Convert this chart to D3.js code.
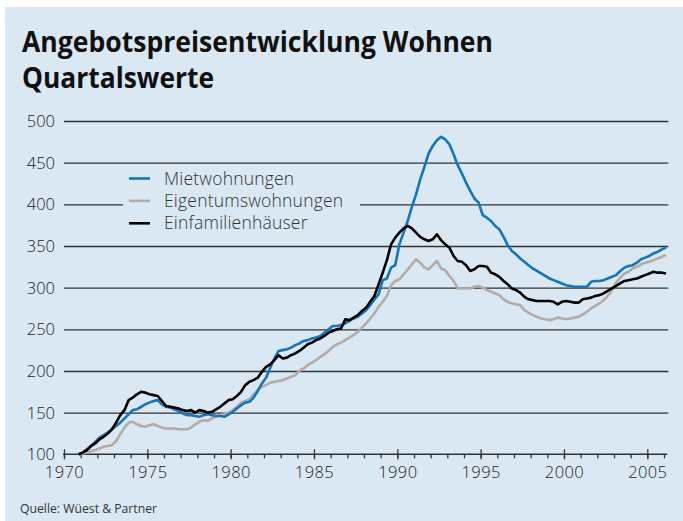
<!DOCTYPE html>
<html>
<head>
<meta charset="utf-8">
<script src="https://cdn.jsdelivr.net/npm/d3@7"></script>
<style>
  html,body{margin:0;padding:0;background:#fff;}
  svg{display:block;}
  text{font-family:"Open Sans",sans-serif;fill:#222;}
</style>
</head>
<body>
<svg id="chart" width="683" height="521"></svg>
<script>
// quarterly index values, first quarter 1970 Q4, last 2006 Q1
const firstQuarter = { year: 1970, q: 4 };

const mietwohnungen = [
  100,
  102,106,110,115,  120,123,126,130,  134,138,143,148,  153,154,157,160,
  162,164,165,160,  157,156,154,152,  149,147,147,146,  145,147,148,147,
  146,146,145,148,  151,155,159,162,  163,168,176,185,  192,204,215,224,
  225,226,228,231,  233,236,237,239,  240,242,246,250,  254,254,255,257,
  260,263,265,269,  273,279,286,292,  309,311,324,327,  352,366,380,397,
  412,430,445,461,  470,477,481,478,  472,460,447,437,  426,416,407,402,
  387,384,380,374,  370,361,351,344,  340,335,331,327,  323,320,317,314,
  311,309,307,305,  303,302,301,301,  301,301,307,308,  308,309,311,313,
  315,320,324,326,  327,330,334,336,  338,341,343,346,
  348
];

const eigentumswohnungen = [
  100,
  101,102,104,105,  107,109,110,111,  116,124,132,138,  139,136,134,133,
  135,136,134,132,  131,131,131,130,  130,130,132,136,  139,141,140,143,
  145,147,148,150,  153,157,162,164,  166,172,177,181,  183,186,187,188,
  189,191,193,195,  200,203,207,210,  213,217,220,224,  229,232,234,237,
  240,243,247,252,  257,263,269,277,  283,290,303,308,  310,316,322,328,
  334,330,324,322,  327,332,323,321,  314,308,299,299,  299,299,301,302,
  300,297,295,293,  291,286,283,281,  280,279,273,270,  267,265,263,262,
  261,262,264,263,  262,263,264,265,  268,271,275,278,  281,285,290,297,
  306,312,317,319,  323,325,328,330,  331,333,335,337,
  339
];

const einfamilienhaeuser = [
  100,
  102,105,110,113,  118,121,125,130,  138,147,153,165,  168,172,175,174,
  172,171,170,164,  158,157,156,155,  153,152,153,150,  153,152,150,151,
  154,157,161,165,  166,170,175,183,  187,189,192,199,  205,208,213,219,
  215,216,219,221,  224,228,232,234,  237,239,242,246,  248,250,251,262,
  261,264,267,272,  276,283,290,304,  318,333,352,360,  366,371,374,371,
  366,361,358,356,  358,364,357,352,  348,338,332,331,  327,320,322,326,
  326,325,318,316,  313,308,304,299,  297,294,289,286,  285,284,284,284,
  284,283,280,283,  284,283,282,282,  286,287,288,290,  291,293,296,299,
  302,305,308,309,  310,311,313,315,  317,319,318,318,
  317
];

const seriesNames = ['Mietwohnungen','Eigentumswohnungen','Einfamilienhäuser'];
const seriesColors = ['#1574ba','#b3aca6','#000'];
const yTicks = [100,150,200,250,300,350,400,450,500];
const xMajor = [1970,1975,1980,1985,1990,1995,2000,2005];
const xMinor = d3.range(1970, 2007);

const svg = d3.select('#chart');
const W = 683, H = 521;

// background panel
svg.append('rect').attr('x',5).attr('y',7).attr('width',W-5).attr('height',H-7).attr('fill','#d9e8f3');

const x = d3.scaleLinear().domain([1970, 2006.2]).range([64, 667.3]);
const y = d3.scaleLinear().domain([100, 500]).range([454.3, 121]);

// quarter midpoints as decimal years
const t = (i) => {
  const k = (firstQuarter.q - 1) + i;
  return firstQuarter.year + Math.floor(k/4) + ((k % 4) + 0.5)/4;
};

// title
svg.append('text').attr('x',22).attr('y',52)
  .attr('font-size',28).attr('font-weight',700)
  .attr('textLength',471).attr('lengthAdjust','spacingAndGlyphs')
  .style('fill','#111')
  .text('Angebotspreisentwicklung Wohnen');
svg.append('text').attr('x',22).attr('y',88)
  .attr('font-size',28).attr('font-weight',700)
  .attr('textLength',192).attr('lengthAdjust','spacingAndGlyphs')
  .style('fill','#111')
  .text('Quartalswerte');

// grid + y labels
const grid = svg.append('g')
  .attr('transform','translate(64,0)')
  .call(d3.axisLeft(y).tickValues(yTicks.filter(d => d>100)).tickSize(-(667.3-64)).tickFormat(''));
grid.select('.domain').remove();
grid.selectAll('line').attr('stroke','#333').attr('stroke-width',1.3).attr('x2',667.3-63);

svg.append('g').selectAll('text').data(yTicks).join('text')
  .attr('x',55).attr('y',d => y(d)).attr('dy','0.36em')
  .attr('text-anchor','end').attr('font-size',16.5).attr('font-weight',300)
  .text(d => d);

// legend box (hides gridline behind it)
svg.append('rect').attr('x',123).attr('y',168).attr('width',237).attr('height',66).attr('fill','#d9e8f3');

// x axis
const xAxis = svg.append('g').attr('transform',`translate(0,${y(100)})`);
xAxis.append('g')
  .call(d3.axisBottom(x).tickValues(xMinor).tickSize(4).tickFormat(''))
  .call(g => g.select('.domain').remove())
  .selectAll('line').attr('stroke','#333').attr('stroke-width',1.3);
xAxis.append('g')
  .call(d3.axisBottom(x).tickValues(xMajor).tickSize(5).tickFormat(d3.format('d')).tickSizeOuter(0))
  .call(g => g.select('.domain').attr('stroke','#333').attr('stroke-width',1.6).attr('d',`M${x(1970)-1},0H${x.range()[1]}`))
  .call(g => g.selectAll('line').attr('stroke','#333').attr('stroke-width',1.3).attr('y1',-5))
  .call(g => g.selectAll('text').attr('font-size',16.5).attr('font-weight',300).attr('dy','0.95em')
    .style('fill','#222').style('letter-spacing','0.4px').style('font-family','"Open Sans",sans-serif'));

// lines
const line = d3.line().x((d,i) => x(t(i))).y(d => y(d));
const drawOrder = [
  { values: eigentumswohnungen, color: seriesColors[1] },
  { values: mietwohnungen, color: seriesColors[0] },
  { values: einfamilienhaeuser, color: seriesColors[2] }
];
svg.append('g').selectAll('path').data(drawOrder).join('path')
  .attr('d', d => line(d.values))
  .attr('fill','none')
  .attr('stroke', d => d.color)
  .attr('stroke-width',2.6)
  .attr('stroke-linejoin','round');

// legend
const legend = svg.append('g').selectAll('g').data(seriesNames).join('g')
  .attr('transform',(d,i) => `translate(129,${178.5 + i*22.4})`);
legend.append('line').attr('x1',0).attr('x2',21)
  .attr('stroke',(d,i) => seriesColors[i]).attr('stroke-width',2.6);
legend.append('text').attr('x',35).attr('dy','0.35em')
  .attr('font-size',17.5).attr('font-weight',300).style('letter-spacing','0.2px').style('fill','#333')
  .text(d => d);

// source
svg.append('text').attr('x',20).attr('y',513)
  .attr('font-size',12).attr('textLength',137).attr('lengthAdjust','spacingAndGlyphs')
  .style('fill','#333')
  .text('Quelle: Wüest & Partner');
</script>
</body>
</html>
